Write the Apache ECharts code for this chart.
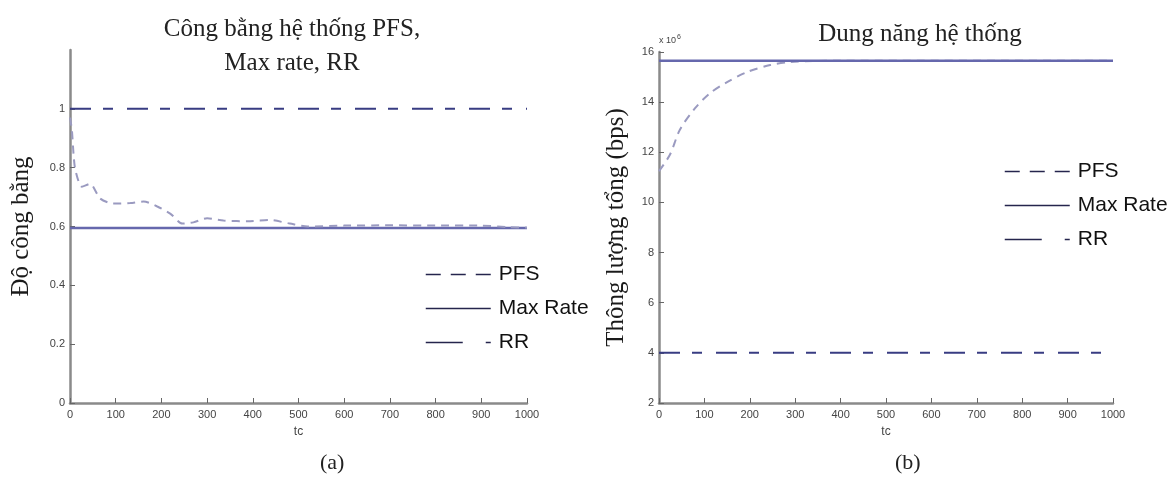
<!DOCTYPE html>
<html>
<head>
<meta charset="utf-8">
<script src="https://cdn.jsdelivr.net/npm/echarts@6/dist/echarts.min.js"></script>
<style>
html,body{margin:0;padding:0;background:#fff;}
#chart{width:1176px;height:481px;}
</style>
</head>
<body>
<div id="chart"></div>
<script>
// ---- data ----
const seriesNames = ['PFS', 'Max Rate', 'RR'];
// (a) fairness
const tcPfsA = [0, 4, 8, 12, 26, 44, 66, 94, 132, 161, 191, 220, 246, 270, 300, 336, 394, 437, 481, 520, 600, 700, 800, 900, 960, 1000];
const pfsA = [0.97, 0.93, 0.84, 0.79, 0.735, 0.745, 0.695, 0.678, 0.68, 0.685, 0.668, 0.643, 0.61, 0.614, 0.628, 0.62, 0.618, 0.622, 0.61, 0.6, 0.603, 0.604, 0.603, 0.603, 0.598, 0.596];
const tcFlatA = [0, 1000];
const maxRateA = [0.595, 0.595];
const rrA = [1.0, 1.0];
const yTicksA = [0, 0.2, 0.4, 0.6, 0.8, 1];
// (b) throughput (x 10^6 bps)
const tcPfsB = [0, 24, 46, 79, 112, 150, 194, 245, 289, 340, 400, 1000];
const pfsB = [11.25, 11.9, 12.9, 13.75, 14.35, 14.8, 15.2, 15.48, 15.6, 15.64, 15.65, 15.65];
const tcFlatB = [0, 1000];
const maxRateB = [15.65, 15.65];
const rrB = [4.0, 4.0];
const yTicksB = [2, 4, 6, 8, 10, 12, 14, 16];

const zip = (xs, ys) => xs.map((x, i) => [x, ys[i]]);

const pfsColor = '#9a9ac0';
const maxColor = '#6668ad';
const rrColor = '#383c82';
const legendLine = '#25254d';
const axisColor = '#8a8a8a';
const serif = '"Liberation Serif", "DejaVu Serif", serif';
const sans = '"Liberation Sans", Arial, sans-serif';

function xAxisDef(gridIndex) {
  return {
    type: 'value', gridIndex, min: 0, max: 1000, interval: 100,
    name: 'tc', nameLocation: 'middle', nameGap: 23,
    nameTextStyle: { fontFamily: sans, fontSize: 12, color: '#444' },
    axisLine: { lineStyle: { color: axisColor, width: 2.5 } },
    axisTick: { inside: true, length: 5, lineStyle: { color: '#666' } },
    axisLabel: { fontFamily: sans, fontSize: 11, color: '#444', margin: 6, formatter: v => String(v) },
    splitLine: { show: false }
  };
}
function legendItems() {
  const hide = { color: 'rgba(0,0,0,0)', borderColor: 'rgba(0,0,0,0)', borderWidth: 0, opacity: 0 };
  return [
    { name: 'PFS', itemStyle: hide, lineStyle: { color: legendLine, type: [15, 10], width: 1.5 } },
    { name: 'Max Rate', itemStyle: hide, lineStyle: { color: legendLine, type: 'solid', width: 1.5 } },
    { name: 'RR', itemStyle: hide, lineStyle: { color: legendLine, type: [37, 23, 5, 100], width: 1.5 } }
  ];
}

const option = {
  animation: false,
  backgroundColor: '#fff',
  title: [
    { text: 'Công bằng hệ thống PFS,\nMax rate, RR', left: 287, top: 7, textAlign: 'center',
      textStyle: { fontFamily: serif, fontSize: 25, fontWeight: 'normal', color: '#222', lineHeight: 34 } },
    { text: 'Dung năng hệ thống', left: 915, top: 14, textAlign: 'center',
      textStyle: { fontFamily: serif, fontSize: 25, fontWeight: 'normal', color: '#222', lineHeight: 30 } }
  ],
  grid: [
    { left: 70, right: 649, top: 50, bottom: 78 },
    { left: 659, right: 63, top: 52, bottom: 78 }
  ],
  legend: [
    { orient: 'vertical', left: 425, top: 264, padding: 0, itemWidth: 65, itemHeight: 14, itemGap: 13,
      textStyle: { fontFamily: sans, fontSize: 21, color: '#111', padding: [0, 0, 0, 3] }, data: legendItems() },
    { orient: 'vertical', left: 1004, top: 161, padding: 0, itemWidth: 65, itemHeight: 14, itemGap: 13,
      textStyle: { fontFamily: sans, fontSize: 21, color: '#111', padding: [0, 0, 0, 3] }, data: legendItems() }
  ],
  xAxis: [xAxisDef(0), xAxisDef(1)],
  yAxis: [
    { type: 'value', gridIndex: 0, min: 0, max: 1.2, interval: 0.2,
      name: 'Độ công bằng', nameLocation: 'middle', nameGap: 36,
      nameTextStyle: { fontFamily: serif, fontSize: 25, color: '#1a1a1a' },
      axisLine: { lineStyle: { color: axisColor, width: 2.5 } },
      axisTick: { inside: true, length: 5, lineStyle: { color: '#666' }, customValues: yTicksA },
      axisLabel: { fontFamily: sans, fontSize: 11, color: '#444', margin: 5, customValues: yTicksA,
        formatter: v => String(Math.round(v * 10) / 10) },
      splitLine: { show: false } },
    { type: 'value', gridIndex: 1, min: 2, max: 16, interval: 2,
      name: 'Thông lượng tổng (bps)', nameLocation: 'middle', nameGap: 30,
      nameTextStyle: { fontFamily: serif, fontSize: 25, color: '#1a1a1a' },
      axisLine: { lineStyle: { color: axisColor, width: 2.5 } },
      axisTick: { inside: true, length: 5, lineStyle: { color: '#666' }, customValues: yTicksB },
      axisLabel: { fontFamily: sans, fontSize: 11, color: '#444', margin: 5, customValues: yTicksB },
      splitLine: { show: false } }
  ],
  series: [
    { name: 'RR', type: 'line', xAxisIndex: 0, yAxisIndex: 0, showSymbol: false, symbol: 'none',
      data: zip(tcFlatA, rrA), itemStyle: { color: rrColor },
      lineStyle: { color: rrColor, width: 2, type: [21, 12, 10, 14] } },
    { name: 'Max Rate', type: 'line', xAxisIndex: 0, yAxisIndex: 0, showSymbol: false, symbol: 'none',
      data: zip(tcFlatA, maxRateA), itemStyle: { color: maxColor },
      lineStyle: { color: maxColor, width: 2.5, type: 'solid' } },
    { name: 'PFS', type: 'line', xAxisIndex: 0, yAxisIndex: 0, showSymbol: false, symbol: 'none', smooth: 0.25,
      data: zip(tcPfsA, pfsA), itemStyle: { color: pfsColor },
      lineStyle: { color: pfsColor, width: 2, type: [8, 6] } },
    { name: 'RR', type: 'line', xAxisIndex: 1, yAxisIndex: 1, showSymbol: false, symbol: 'none',
      data: zip(tcFlatB, rrB), itemStyle: { color: rrColor },
      lineStyle: { color: rrColor, width: 2, type: [21, 12, 10, 14] } },
    { name: 'PFS', type: 'line', xAxisIndex: 1, yAxisIndex: 1, showSymbol: false, symbol: 'none', smooth: 0.3,
      data: zip(tcPfsB, pfsB), itemStyle: { color: pfsColor },
      lineStyle: { color: pfsColor, width: 2, type: [8, 6] } },
    { name: 'Max Rate', type: 'line', xAxisIndex: 1, yAxisIndex: 1, showSymbol: false, symbol: 'none',
      data: zip(tcFlatB, maxRateB), itemStyle: { color: maxColor },
      lineStyle: { color: maxColor, width: 2.5, type: 'solid' } }
  ],
  graphic: [
    { type: 'text', left: 659, top: 34, style: {
        text: 'x 10{s|6}', fontFamily: sans, fontSize: 9, fill: '#444',
        rich: { s: { fontSize: 7, fill: '#444', verticalAlign: 'top', padding: [0, 0, 6, 1] } } } },
    { type: 'text', left: 320, top: 452, style: { text: '(a)', fontFamily: serif, fontSize: 22, fill: '#222', textAlign: 'center' } },
    { type: 'text', left: 895, top: 452, style: { text: '(b)', fontFamily: serif, fontSize: 22, fill: '#222', textAlign: 'center' } }
  ]
};

const chart = echarts.init(document.getElementById('chart'), null, { renderer: 'canvas' });
chart.setOption(option);
</script>
</body>
</html>
